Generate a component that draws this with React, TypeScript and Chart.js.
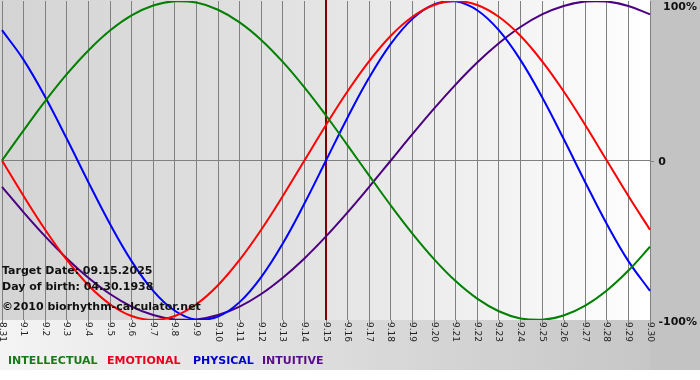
import React, { useEffect, useRef } from "react";
import { Chart, registerables } from "chart.js";

Chart.register(...registerables);

const dates = [
  "8.31", "9.1", "9.2", "9.3", "9.4", "9.5", "9.6", "9.7", "9.8", "9.9", "9.10",
  "9.11", "9.12", "9.13", "9.14", "9.15", "9.16", "9.17", "9.18", "9.19", "9.20",
  "9.21", "9.22", "9.23", "9.24", "9.25", "9.26", "9.27", "9.28", "9.29", "9.30",
];

const intellectual = [
  0, 18.9, 37.2, 54.1, 69.0, 81.5, 91.0, 97.2, 99.9, 99.0, 94.5,
  86.6, 75.6, 61.8, 45.8, 28.2, 9.5, -9.5, -28.2, -45.8, -61.8,
  -75.6, -86.6, -94.5, -99.0, -99.9, -97.2, -91.0, -81.5, -69.0, -54.1,
];

const emotional = [
  0, -22.3, -43.4, -62.3, -78.2, -90.1, -97.5, -100, -97.5, -90.1, -78.2,
  -62.3, -43.4, -22.3, 0, 22.3, 43.4, 62.3, 78.2, 90.1, 97.5,
  100, 97.5, 90.1, 78.2, 62.3, 43.4, 22.3, 0, -22.3, -43.4,
];

const physical = [
  81.7, 63.1, 39.8, 13.6, -13.6, -39.8, -63.1, -81.7, -94.2, -99.8, -97.9,
  -88.8, -73.1, -52.0, -27.0, 0, 27.0, 52.0, 73.1, 88.8, 97.9,
  99.8, 94.2, 81.7, 63.1, 39.8, 13.6, -13.6, -39.8, -63.1, -81.7,
];

const intuitive = [
  -16.5, -32.5, -47.6, -61.4, -73.5, -83.7, -91.6, -96.9, -99.7, -99.7, -96.9,
  -91.6, -83.7, -73.5, -61.4, -47.6, -32.5, -16.5, 0, 16.5, 32.5,
  47.6, 61.4, 73.5, 83.7, 91.6, 96.9, 99.7, 99.7, 96.9, 91.6,
];

const seriesNames = ["INTELLECTUAL", "EMOTIONAL", "PHYSICAL", "INTUITIVE"];
const seriesColors = ["#008000", "#ff0000", "#0000ff", "#4b0082"];
const legendColors = ["#1a7a1a", "#e8001c", "#0000cc", "#5a0d8a"];

const yTickValues = [100, 0, -100];
const yTickLabels = ["100%", "0", "-100%"];

const targetIndex = 15;
const infoLines = ["Target Date: 09.15.2025", "Day of birth: 04.30.1938", "", "©2010 biorhythm-calculator.net"];

const FONT = "'DejaVu Sans', Verdana, sans-serif";

const decorPlugin = {
  id: "decor",
  beforeDraw(chart: any) {
    const { ctx, chartArea } = chart;
    const W = chart.width;
    const H = chart.height;
    ctx.save();
    // base white
    ctx.fillStyle = "#ffffff";
    ctx.fillRect(0, 0, W, H);
    // right gray panel
    ctx.fillStyle = "#c3c3c3";
    ctx.fillRect(chartArea.right, 0, W - chartArea.right, 370);
    // bottom band gradient
    const gb = ctx.createLinearGradient(0, 0, W, 0);
    gb.addColorStop(0, "#f4f4f4");
    gb.addColorStop(0.35, "#e2e2e2");
    gb.addColorStop(1, "#c3c3c3");
    ctx.fillStyle = gb;
    ctx.fillRect(0, chartArea.bottom, chartArea.right, 370 - chartArea.bottom);
    // plot gradient
    const g = ctx.createLinearGradient(chartArea.left, 0, chartArea.right, 0);
    g.addColorStop(0, "#d4d4d4");
    g.addColorStop(0.45, "#e2e2e2");
    g.addColorStop(0.8, "#f4f4f4");
    g.addColorStop(1, "#ffffff");
    ctx.fillStyle = g;
    ctx.fillRect(0, 0, chartArea.right, chartArea.bottom);
    ctx.restore();
  },
  beforeDatasetsDraw(chart: any) {
    const { ctx, chartArea, scales } = chart;
    const xs = scales.x;
    const ys = scales.y;
    ctx.save();
    // tick marks below plot
    ctx.strokeStyle = "#808080";
    ctx.lineWidth = 1;
    for (let i = 0; i < dates.length; i++) {
      const x = Math.round(xs.getPixelForValue(i)) + 0.5;
      ctx.beginPath();
      ctx.moveTo(x, chartArea.bottom);
      ctx.lineTo(x, chartArea.bottom + 4);
      ctx.stroke();
    }
    // zero line extension
    const y0 = Math.round(ys.getPixelForValue(0)) + 0.5;
    ctx.beginPath();
    ctx.moveTo(chartArea.right, y0);
    ctx.lineTo(chartArea.right + 4, y0);
    ctx.stroke();
    // target line
    const tx = xs.getPixelForValue(targetIndex);
    ctx.strokeStyle = "#800000";
    ctx.lineWidth = 2;
    ctx.beginPath();
    ctx.moveTo(tx, chartArea.top - 1);
    ctx.lineTo(tx, chartArea.bottom);
    ctx.stroke();
    ctx.restore();
  },
  afterDatasetsDraw(chart: any) {
    const { ctx, chartArea, scales } = chart;
    const xs = scales.x;
    const ys = scales.y;
    ctx.save();
    // info text
    ctx.fillStyle = "#111111";
    ctx.font = `bold 11px ${FONT}`;
    ctx.textAlign = "left";
    ctx.textBaseline = "middle";
    const baseY = [271, 287, 0, 307];
    infoLines.forEach((t, i) => {
      if (t) ctx.fillText(t, 2, baseY[i]);
    });
    // x labels rotated clockwise
    ctx.font = `9px ${FONT}`;
    ctx.fillStyle = "#222222";
    for (let i = 0; i < dates.length; i++) {
      const x = xs.getPixelForValue(i);
      ctx.save();
      ctx.translate(x, chartArea.bottom + 2);
      ctx.rotate(Math.PI / 2);
      ctx.textAlign = "left";
      ctx.textBaseline = "middle";
      ctx.fillText(dates[i], 0, 0);
      ctx.restore();
    }
    // y labels
    ctx.font = `bold 11px ${FONT}`;
    ctx.fillStyle = "#111111";
    ctx.textBaseline = "middle";
    ctx.textAlign = "right";
    yTickValues.forEach((v, i) => {
      let y = ys.getPixelForValue(v) + 2;
      if (y < 7) y = 7;
      const label = yTickLabels[i];
      const x = label === "0" ? 666 : 697;
      ctx.fillText(label, x, y);
    });
    // legend
    ctx.font = `bold 11px ${FONT}`;
    ctx.textAlign = "left";
    const lx = [8, 107, 193, 262];
    seriesNames.forEach((n, i) => {
      ctx.fillStyle = legendColors[i];
      ctx.fillText(n, lx[i], 361);
    });
    ctx.restore();
  },
};

export default function App() {
  const ref = useRef<HTMLCanvasElement | null>(null);
  useEffect(() => {
    if (!ref.current) return;
    const seriesData = [intellectual, emotional, physical, intuitive];
    const chart = new Chart(ref.current, {
      type: "line",
      data: {
        labels: dates,
        datasets: seriesData.map((d, i) => ({
          label: seriesNames[i],
          data: d,
          borderColor: seriesColors[i],
          borderWidth: 2,
          pointRadius: 0,
          tension: 0.4,
          fill: false,
        })),
      },
      options: {
        responsive: false,
        animation: false,
        devicePixelRatio: 1,
        layout: { padding: { left: 2, right: 50, top: 1, bottom: 60 } },
        plugins: { legend: { display: false }, tooltip: { enabled: false } },
        scales: {
          x: {
            offset: false,
            ticks: { display: false },
            border: { display: false },
            grid: { color: "#808080", lineWidth: 1, drawTicks: false },
          },
          y: {
            position: "right",
            min: -100,
            max: 100,
            afterBuildTicks: (s: any) => {
              s.ticks = yTickValues.map((v) => ({ value: v }));
            },
            ticks: { display: false },
            border: { display: false },
            grid: {
              drawTicks: false,
              lineWidth: 1,
              color: (c: any) => (c.tick && c.tick.value === 0 ? "#808080" : "rgba(0,0,0,0)"),
            },
          },
        },
      },
      plugins: [decorPlugin],
    });
    return () => chart.destroy();
  }, []);
  return (
    <div style={{ position: "absolute", left: 0, top: 0, width: 700, height: 380 }}>
      <canvas ref={ref} width={700} height={380} style={{ display: "block" }} />
    </div>
  );
}
